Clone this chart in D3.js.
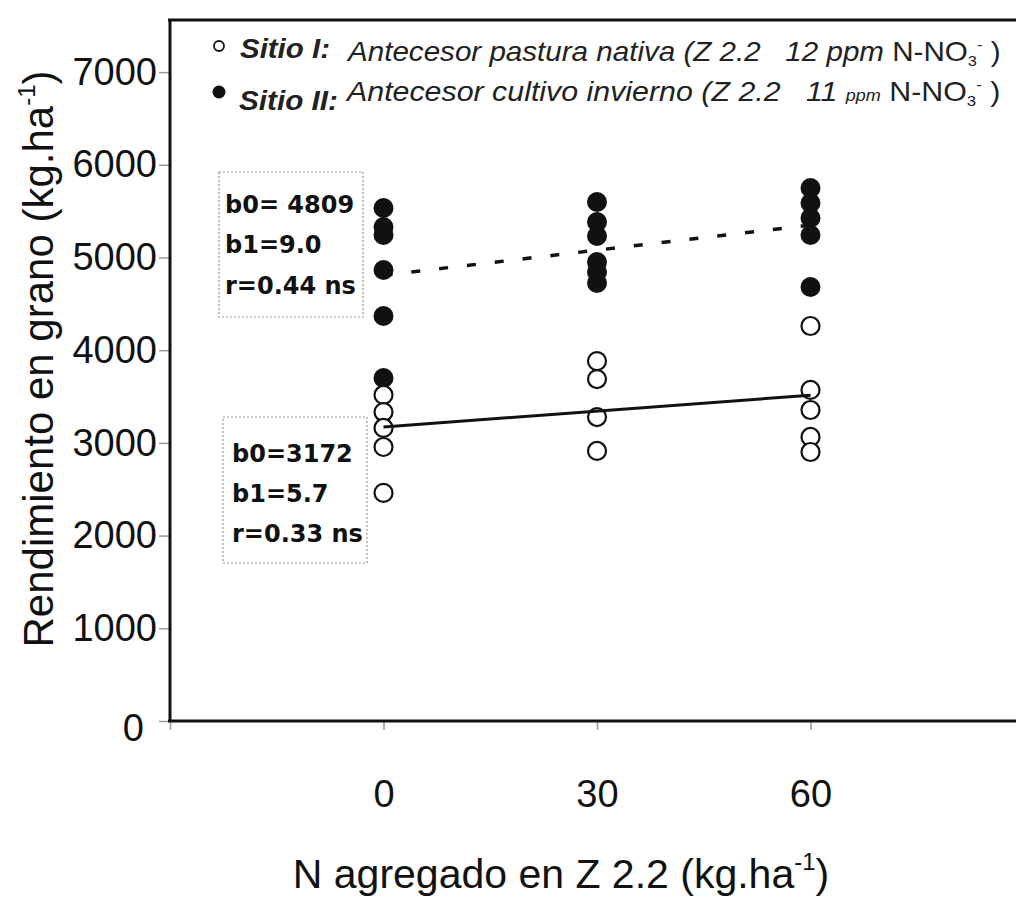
<!DOCTYPE html>
<html><head><meta charset="utf-8">
<script src="https://cdn.jsdelivr.net/npm/d3@7"></script>
<style>body{margin:0;background:#fff}svg{display:block}</style>
</head><body>
<svg id="c" width="1016" height="898"></svg>
<script>
// ---- data ----
const nLevels = [0, 30, 60];
const xTicks = [-30, 0, 30, 60];
const yTicks = [0, 1000, 2000, 3000, 4000, 5000, 6000, 7000];
// Sitio I (open circles), yields by N level
const sitio1 = [
  [3517, 3333, 3161, 2956, 2460],
  [3883, 3689, 3279, 2913],
  [4261, 3571, 3355, 3064, 2902]
];
// Sitio II (filled circles)
const sitio2 = [
  [5534, 5329, 5243, 4865, 4369, 3700],
  [5599, 5383, 5232, 4951, 4844, 4725],
  [5750, 5588, 5426, 5243, 4682]
];
const fit1 = {b0: 3172, b1: 5.7, r: "0.33"};
const fit2 = {b0: 4809, b1: 9.0, r: "0.44"};

const svg = d3.select("#c");
const x = d3.scaleLinear().domain([-30, 90]).range([170, 1024]);
const y = d3.scaleLinear().domain([0, 7562]).range([721, 20]);
const font = "'Liberation Sans', Arial, sans-serif";

// axes ticks
const xAxis = d3.axisBottom(x).tickValues(xTicks).tickSize(9).tickPadding(50)
  .tickFormat(d => d < 0 ? "" : d);
const gx = svg.append("g").attr("transform", "translate(0,721)").call(xAxis);
gx.select(".domain").remove();
gx.selectAll("line").attr("stroke", "#999").attr("stroke-width", 1.5);
gx.selectAll("text").attr("font-family", font).attr("font-size", 38).attr("fill", "#111");

const yAxis = d3.axisLeft(y).tickValues(yTicks).tickSize(11).tickPadding(2).tickFormat(d3.format("d"));
const gy = svg.append("g").attr("transform", "translate(170,0)").call(yAxis);
gy.select(".domain").remove();
gy.selectAll("line").attr("stroke", "#999").attr("stroke-width", 1.5);
gy.selectAll("text").attr("font-family", font).attr("font-size", 38).attr("fill", "#111")
  .attr("dx", d => d === 0 ? -13 : 0).attr("dy", d => d === 0 ? "0.5em" : "0.32em");

// frame
const fr = svg.append("g").attr("stroke", "#111").attr("stroke-width", 3);
fr.append("line").attr("x1", 170).attr("x2", 170).attr("y1", 20).attr("y2", 722);
fr.append("line").attr("x1", 168).attr("x2", 1016).attr("y1", 20).attr("y2", 20);
fr.append("line").attr("x1", 168).attr("x2", 1016).attr("y1", 721).attr("y2", 721);

// stat boxes
function statBox(bx, by, bw, bh, tx, bases, lines) {
  svg.append("rect").attr("x", bx).attr("y", by).attr("width", bw).attr("height", bh)
    .attr("fill", "none").attr("stroke", "#999").attr("stroke-width", 1.2).attr("stroke-dasharray", "2,2");
  lines.forEach((t, i) => svg.append("text").attr("x", tx).attr("y", bases[i])
    .attr("font-family", "'DejaVu Sans', sans-serif").attr("font-weight", "bold")
    .attr("font-size", 24).attr("fill", "#111").text(t));
}
statBox(219, 172, 144, 145, 225, [213, 253, 294],
  ["b0= " + fit2.b0, "b1=" + fit2.b1.toFixed(1), "r=" + fit2.r + " ns"]);
statBox(223, 417, 144, 146, 232, [462, 502, 542],
  ["b0=" + fit1.b0, "b1=" + fit1.b1.toFixed(1), "r=" + fit1.r + " ns"]);

// regression lines
const line = d3.line().x(d => x(d[0])).y(d => y(d[1]));
svg.append("path").datum([0, 60].map(n => [n, fit2.b0 + fit2.b1 * n])).attr("d", line)
  .attr("stroke", "#111").attr("stroke-width", 3.5).attr("stroke-dasharray", "9,19").attr("fill", "none");

// points: filled first
const pts2 = sitio2.flatMap((arr, i) => arr.map(v => [nLevels[i], v]));
const pts1 = sitio1.flatMap((arr, i) => arr.map(v => [nLevels[i], v]));
svg.selectAll("circle.s2").data(pts2).join("circle").attr("class", "s2")
  .attr("cx", d => x(d[0])).attr("cy", d => y(d[1])).attr("r", 10).attr("fill", "#111");
svg.selectAll("circle.s1").data(pts1).join("circle").attr("class", "s1")
  .attr("cx", d => x(d[0])).attr("cy", d => y(d[1])).attr("r", 9)
  .attr("fill", "#fff").attr("stroke", "#111").attr("stroke-width", 2.2);

svg.append("path").datum([0, 60].map(n => [n, fit1.b0 + fit1.b1 * n])).attr("d", line)
  .attr("stroke", "#111").attr("stroke-width", 3).attr("fill", "none");

// legend
svg.append("circle").attr("cx", 219).attr("cy", 46).attr("r", 5).attr("fill", "#fff").attr("stroke", "#111").attr("stroke-width", 1.8);
svg.append("circle").attr("cx", 219).attr("cy", 92).attr("r", 6.5).attr("fill", "#111");

function fitText(sel, tx, ty, target) {
  const w = sel.node().getBBox().width;
  sel.attr("transform", `translate(${tx},${ty}) scale(${target / w},1)`);
}
const l1a = svg.append("text").attr("font-family", font).attr("font-size", 28)
  .attr("font-weight", "bold").attr("font-style", "italic").attr("fill", "#222").text("Sitio I:");
fitText(l1a, 240, 58, 90);
const l2a = svg.append("text").attr("font-family", font).attr("font-size", 28)
  .attr("font-weight", "bold").attr("font-style", "italic").attr("fill", "#222").text("Sitio II:");
fitText(l2a, 239, 110, 99);

function legendRest(pre, ppm, small) {
  const t = svg.append("text").attr("font-family", font).attr("font-size", 27).attr("fill", "#222");
  t.append("tspan").attr("font-style", "italic").text(pre);
  t.append("tspan").attr("font-style", "italic").attr("font-size", small ? 16 : 27).text(ppm);
  t.append("tspan").text("\u00A0N-NO");
  t.append("tspan").attr("font-size", 15).attr("dy", 5).text("3");
  t.append("tspan").attr("font-size", 15).attr("dy", -16).text("-");
  t.append("tspan").attr("dy", 11).text("\u00A0)");
  return t;
}
fitText(legendRest("Antecesor pastura nativa (Z 2.2\u00A0\u00A0 12 ", "ppm", false), 348, 61, 655);
fitText(legendRest("Antecesor cultivo invierno (Z 2.2\u00A0\u00A0 11 ", "ppm", true), 347, 101, 656);

// axis titles
const xt = svg.append("text").attr("x", 561).attr("y", 888).attr("text-anchor", "middle")
  .attr("font-family", font).attr("font-size", 41).attr("fill", "#111");
xt.append("tspan").text("N agregado en Z 2.2 (kg.ha");
xt.append("tspan").attr("font-size", 24).attr("dy", -18).text("-1");
xt.append("tspan").attr("dy", 18).text(")");

const yt = svg.append("text").attr("transform", "translate(53,359) rotate(-90)").attr("text-anchor", "middle")
  .attr("font-family", font).attr("font-size", 42).attr("fill", "#111");
yt.append("tspan").text("Rendimiento en grano (kg.ha");
yt.append("tspan").attr("font-size", 24).attr("dy", -18).text("-1");
yt.append("tspan").attr("dy", 18).text(")");
</script>
</body></html>
